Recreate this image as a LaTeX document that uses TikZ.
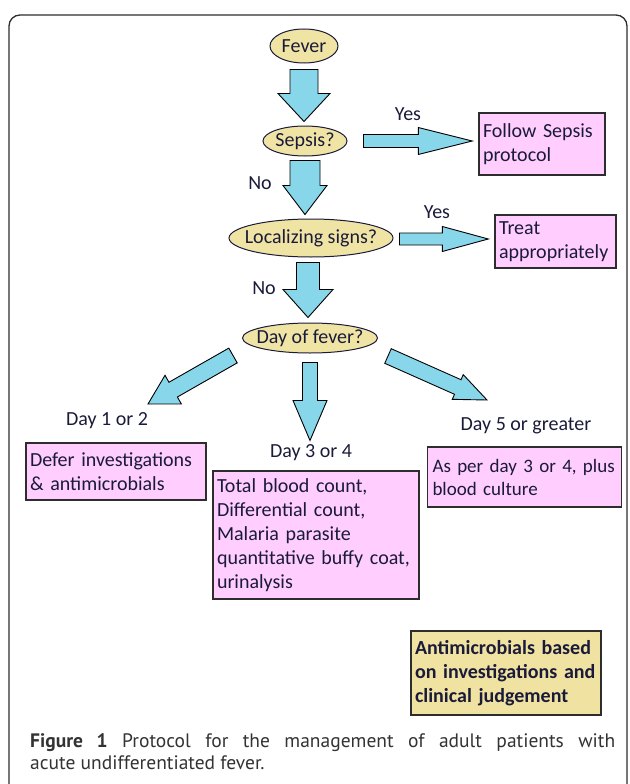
\documentclass[tikz,border=0pt]{standalone}
\usepackage{fontspec}
\setmainfont{Carlito}
\newfontfamily\captionfont{PT Sans}
\usetikzlibrary{calc,shapes.geometric}

\definecolor{ovalfill}{RGB}{240,228,164}
\definecolor{notefill}{RGB}{240,226,160}
\definecolor{boxfill}{RGB}{255,206,255}
\definecolor{arrowfill}{RGB}{136,214,234}
\definecolor{inktext}{RGB}{26,26,58}
\definecolor{boxline}{RGB}{45,45,45}
\definecolor{captext}{RGB}{51,51,51}

% text set without width, so the oval keeps its own size
\newcommand{\ovaltext}[1]{\makebox[0pt]{#1}}
% block arrow: tail, tip, half shaft, half head, head length
\newcommand{\blockarrow}[5]{%
  \coordinate (hb) at ($(#2)!#5!(#1)$);
  \draw[arrow body] ($(#1)!#3!90:(#2)$) -- ($(hb)!#3!90:(#2)$) -- ($(hb)!#4!90:(#2)$) -- (#2)
    -- ($(hb)!#4!-90:(#2)$) -- ($(hb)!#3!-90:(#2)$) -- ($(#1)!#3!-90:(#2)$) -- cycle;
}

\begin{document}
\begin{tikzpicture}[x=1pt, y=-1pt, font=\fontsize{20}{24}\selectfont, text=inktext,
  oval/.style={ellipse, draw=inktext, line width=1pt, fill=ovalfill, inner sep=0pt},
  pink box/.style={rectangle, draw=boxline, line width=1.4pt, fill=boxfill, inner xsep=4pt, inner ysep=0pt, align=left},
  note box/.style={pink box, fill=notefill, font=\fontsize{20}{24}\selectfont\bfseries},
  tag/.style={inner sep=0pt},
  arrow body/.style={draw=black, line width=0.9pt, fill=arrowfill, line join=miter}]
\useasboundingbox (0,0) rectangle (629,784);
\draw[boxline, line width=1.3pt, rounded corners=11pt] (9,15) rectangle (627,820);

\node [oval, minimum width=68pt, minimum height=34pt] (fever) at (304,46) {\ovaltext{Fever}};
\node [oval, minimum width=84pt, minimum height=30pt] (sepsis) at (305,141) {\ovaltext{Sepsis?}};
\node [oval, minimum width=164pt, minimum height=38pt] (local) at (311,238) {\ovaltext{Localizing signs?}};
\node [oval, minimum width=135pt, minimum height=30pt] (dayq) at (310,338) {\ovaltext{Day of fever?}};

\node [pink box, text width=118pt, minimum height=62pt] (follow) at (542,144) {Follow Sepsis\\protocol};
\node [pink box, text width=113pt, minimum height=53pt] (treat) at (555.5,241.5) {Treat\\appropriately};
\node [pink box, text width=172pt, minimum height=57pt] (defer) at (116,471.5) {Defer investigations\\\& antimicrobials};
\node [pink box, text width=198pt, minimum height=128pt] (total) at (316,535) {Total blood count,\\Differential count,\\Malaria parasite\\quantitative buffy coat,\\urinalysis};
\node [pink box, text width=184pt, inner xsep=5pt, minimum height=60pt, font=\fontsize{19}{23}\selectfont] (asper) at (524.5,477) {As per day 3 or 4, plus\\blood culture};
\node [note box, text width=182pt, minimum height=84pt] (anti) at (506,673) {Antimicrobials based\\on investigations and\\clinical judgement};

\node [tag] (yes1) at (408,114) {Yes};
\node [tag] (no1) at (260,183) {No};
\node [tag] (yes2) at (437,212) {Yes};
\node [tag] (no2) at (264,288) {No};
\node [tag] (day12) at (107,421) {Day 1 or 2};
\node [tag] (day34) at (311,453) {Day 3 or 4};
\node [tag] (day5) at (526,426) {Day 5 or greater};

\coordinate (f1) at ($(fever.south)+(0,6)$);
\coordinate (f2) at ($(fever.south |- sepsis.north)+(0,-4)$);
\coordinate (s1) at ($(sepsis.south)+(0,4)$);
\coordinate (s2) at ($(sepsis.south |- local.north)+(0,-4)$);
\coordinate (s3) at ($(sepsis.east)+(16,0)$);
\coordinate (s4) at ($(sepsis.east -| follow.west)+(-6,0)$);
\coordinate (l1) at ($(local.south)+(-3,5)$);
\coordinate (l2) at ($(local.south |- dayq.north)+(-3,-5)$);
\coordinate (l3) at ($(local.east)+(6,1)$);
\coordinate (l4) at ($(local.east -| treat.west)+(-6,1)$);
\coordinate (d1) at ($(dayq.south)+(0,9)$);
\coordinate (d2) at ($(dayq.south)+(0,87)$);
\coordinate (d3) at ($(dayq.center)+(-77,17.5)$);
\coordinate (d4) at ($(dayq.center)+(-162,66)$);
\coordinate (d5) at ($(dayq.center)+(78,18)$);
\coordinate (d6) at ($(dayq.center)+(177,62)$);

\blockarrow{f1}{f2}{14pt}{26pt}{28pt}
\blockarrow{s1}{s2}{15pt}{22pt}{29pt}
\blockarrow{s3}{s4}{6.5pt}{13.5pt}{54pt}
\blockarrow{l1}{l2}{11.5pt}{25pt}{28pt}
\blockarrow{l3}{l4}{6pt}{12.5pt}{46pt}
\blockarrow{d1}{d2}{7.5pt}{17pt}{40pt}
\blockarrow{d3}{d4}{8.5pt}{16.5pt}{29pt}
\blockarrow{d5}{d6}{8pt}{13.5pt}{32pt}

\node [anchor=north west, inner sep=0pt, align=left, text=captext, font=\captionfont\fontsize{19.5}{22}\selectfont] (caption) at (30,733)
  {\makebox[585pt][s]{{\bfseries Figure 1} Protocol for the management of adult patients with}\\acute undifferentiated fever.};
\end{tikzpicture}
\end{document}
